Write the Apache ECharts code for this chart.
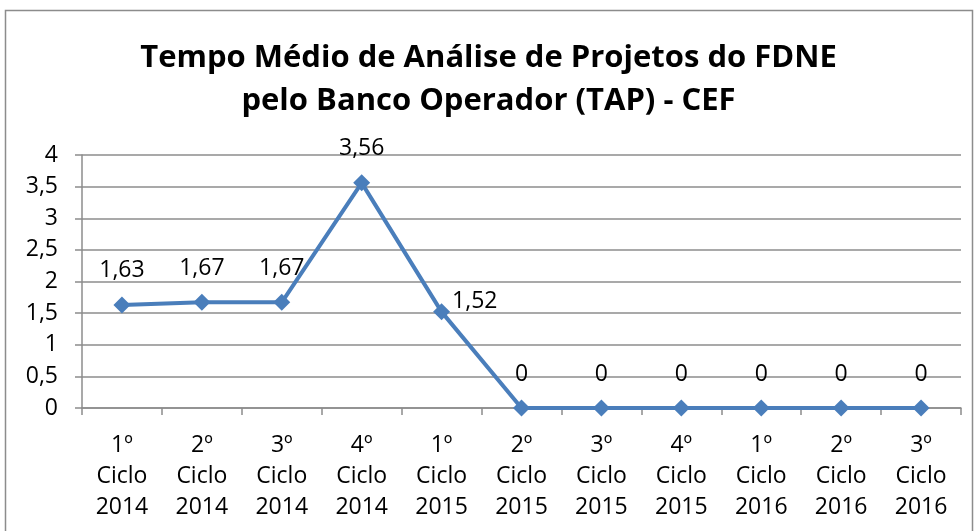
<!DOCTYPE html>
<html>
<head>
<meta charset="utf-8">
<script src="https://cdn.jsdelivr.net/npm/echarts@6/dist/echarts.min.js"></script>
<style>
  html, body { margin: 0; padding: 0; background: #fff; }
  #chart { width: 977px; height: 531px; }
</style>
</head>
<body>
<div id="chart"></div>
<script>
// Ciclos de análise (eixo X) e tempo médio (TAP)
const categories = [
  '1º\nCiclo\n2014', '2º\nCiclo\n2014', '3º\nCiclo\n2014', '4º\nCiclo\n2014',
  '1º\nCiclo\n2015', '2º\nCiclo\n2015', '3º\nCiclo\n2015', '4º\nCiclo\n2015',
  '1º\nCiclo\n2016', '2º\nCiclo\n2016', '3º\nCiclo\n2016',
];
const tapValues = [1.63, 1.67, 1.67, 3.56, 1.52, 0, 0, 0, 0, 0, 0];
const titleLines = ['Tempo Médio de Análise de Projetos do FDNE', 'pelo Banco Operador (TAP) - CEF'];

const FONT = '"Open Sans", sans-serif';
const fmt = v => String(v).replace('.', ',');

const seriesData = tapValues.map((v, i) => {
  // o rótulo 1,52 fica à direita do ponto no original
  if (i === 4) {
    return { value: v, label: { position: 'right', distance: 2, offset: [0, -10] } };
  }
  return v;
});

const chart = echarts.init(document.getElementById('chart'));
chart.setOption({
  backgroundColor: '#fff',
  animation: false,
  graphic: [{
    type: 'rect',
    shape: { x: 5.5, y: 10.5, width: 967, height: 540 },
    style: { fill: 'none', stroke: '#8c8c8c', lineWidth: 1.5 },
    silent: true,
  }],
  title: {
    text: titleLines.join('\n'),
    left: 'center',
    top: 32,
    textStyle: { fontFamily: FONT, fontWeight: 'bold', fontSize: 31, lineHeight: 43, color: '#000' },
  },
  grid: { left: 82, right: 16, top: 155, bottom: 123 },
  xAxis: {
    type: 'category',
    data: categories,
    boundaryGap: true,
    axisLine: { lineStyle: { color: '#8c8c8c', width: 1.5 } },
    axisTick: { show: true, length: 7, lineStyle: { color: '#8c8c8c', width: 1.5 } },
    axisLabel: { fontFamily: FONT, fontSize: 23, lineHeight: 31, color: '#000', margin: 22, interval: 0 },
  },
  yAxis: {
    type: 'value',
    min: 0, max: 4, interval: 0.5,
    axisLine: { show: true, lineStyle: { color: '#8c8c8c', width: 1.5 } },
    axisTick: { show: true, length: 7, lineStyle: { color: '#8c8c8c', width: 1.5 } },
    splitLine: { lineStyle: { color: '#8c8c8c', width: 1.5 } },
    axisLabel: { fontFamily: FONT, fontSize: 23, color: '#000', margin: 24, formatter: v => fmt(v) },
  },
  series: [{
    type: 'line',
    data: seriesData,
    symbol: 'diamond',
    symbolSize: 17,
    lineStyle: { color: '#4a7ebb', width: 4 },
    itemStyle: { color: '#4a7ebb' },
    label: {
      show: true,
      position: 'top',
      distance: 14,
      fontFamily: FONT,
      fontSize: 23,
      color: '#000',
      formatter: p => fmt(p.value),
    },
  }],
});
</script>
</body>
</html>
